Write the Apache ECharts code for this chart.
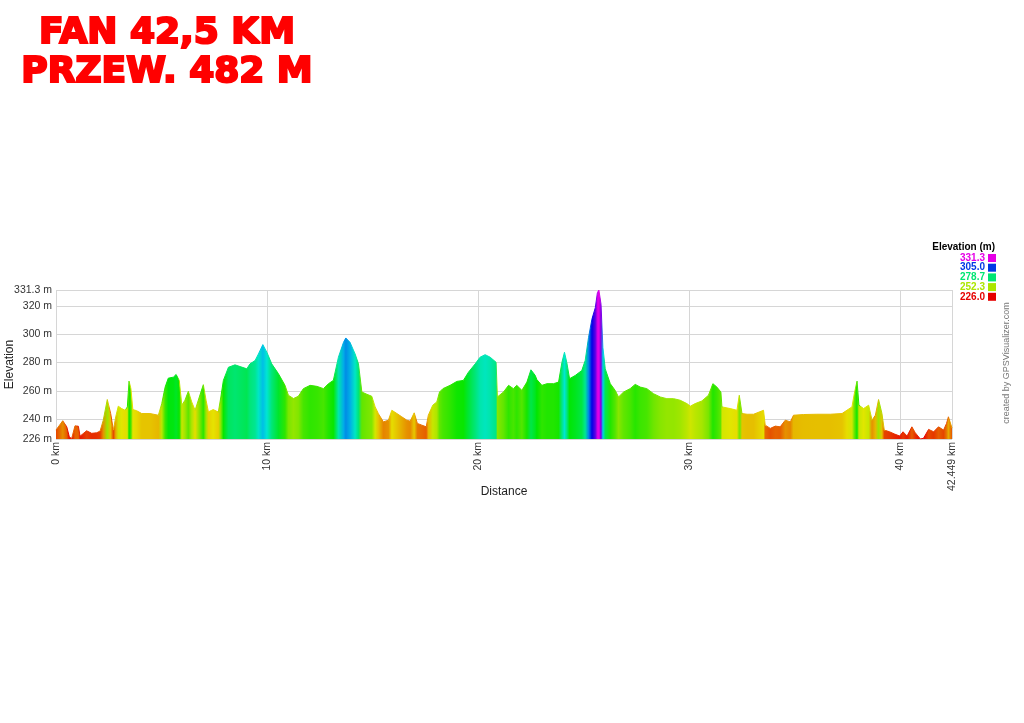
<!DOCTYPE html>
<html><head><meta charset="utf-8">
<script src="https://cdn.jsdelivr.net/npm/echarts@6/dist/echarts.min.js"></script>
<style>html,body{margin:0;padding:0;background:#fff}#c{width:1024px;height:723px}</style>
</head><body><div id="c"></div>
<script>
const distanceKm = [0,0.32,0.51,0.63,0.74,0.90,1.06,1.14,1.45,1.69,1.93,2.09,2.24,2.43,2.59,2.72,2.83,2.95,3.11,3.27,3.38,3.46,3.55,3.64,3.82,4.06,4.45,4.85,5.01,5.17,5.32,5.56,5.69,5.84,5.96,6.11,6.27,6.43,6.59,6.79,6.98,7.11,7.22,7.45,7.69,7.81,7.93,8.17,8.48,8.72,9.04,9.19,9.43,9.59,9.80,9.99,10.22,10.54,10.85,11.01,11.25,11.48,11.72,12.04,12.36,12.67,12.91,13.14,13.38,13.62,13.73,13.93,14.17,14.33,14.49,14.73,14.96,15.12,15.27,15.51,15.75,15.91,16.15,16.38,16.62,16.78,16.97,17.12,17.33,17.54,17.64,17.85,18.04,18.17,18.33,18.67,18.99,19.30,19.54,19.86,20.09,20.33,20.57,20.85,20.91,21.20,21.44,21.67,21.83,22.07,22.31,22.50,22.70,22.78,23.02,23.26,23.57,23.81,23.97,24.09,24.20,24.33,24.60,24.91,25.07,25.23,25.39,25.55,25.65,25.72,25.82,25.91,26.02,26.26,26.49,26.65,26.89,27.20,27.44,27.68,27.99,28.31,28.63,28.94,29.26,29.57,29.89,30.05,30.28,30.60,30.91,31.12,31.31,31.50,31.55,31.94,32.26,32.37,32.42,32.50,32.74,33.05,33.52,33.60,33.84,34.08,34.31,34.55,34.79,34.94,35.42,36.05,36.68,37.24,37.47,37.71,37.82,37.95,38.04,38.26,38.50,38.66,38.82,38.97,39.13,39.24,39.49,39.73,39.97,40.13,40.32,40.55,40.71,40.95,41.10,41.34,41.58,41.81,42.05,42.19,42.28,42.449];
const elevationM = [232.3,238.9,234.6,227.6,226.2,235.3,235,228,231.8,230,230.4,231.6,239.3,253.9,244,232.3,241.7,249.2,247.5,246.3,248.7,266.9,261.6,246.8,246,244,244,242.8,251,262.7,269,269.7,271.6,267.4,249.9,253.4,259.7,252.2,246.3,255.7,264.4,253.4,245.2,246.8,245,255.7,267.4,276.7,278.4,277.2,275.6,279.1,281.4,286.1,292.7,287.3,279.1,272.1,263.9,256.9,254.6,256.2,261.6,263.9,263.2,261.6,265.1,267.4,283.8,294.3,297.4,294.3,286.1,279.1,259.2,257.6,256.2,248.7,244,238.1,239.3,246.3,244,241.7,239.3,238.6,244.5,237,235.8,234.6,242.8,249.9,252.2,259.2,261.6,263.9,266.7,267.4,273.2,279.1,283.8,285.6,283.8,280.2,255.7,259.2,263.9,261.6,263.9,260.4,266.2,274.9,271,268,263.9,265.1,265.1,266.2,280.2,287.3,280,268.6,270.9,274.4,281.4,297.8,310.7,318.8,329.4,331.3,321.2,290.8,275.6,265.1,260.4,255.7,259.2,261.6,264.6,262.7,261.6,258,255.7,254.5,254.5,253.4,251,249.2,251,252.9,256.9,265.1,262.7,259.2,248.7,247.5,246.3,256.9,256,244,243.5,243.5,246.3,235.8,233.5,235.1,234.6,239.3,238.1,242.8,243.3,243.5,243.5,244,246.3,248.7,258,266.9,249.9,247.5,249.9,239.3,242.8,253.9,244,232.3,231.1,229.5,228.1,231.1,228.1,234.6,230.4,226,226.5,232.8,231.1,234.6,232.3,237,241.7,233.7];
const yTicks = [226, 240, 260, 280, 300, 320, 331.3];
const xTicks = [0, 10, 20, 30, 40, 42.449];
const legendValues = [331.3, 305.0, 278.7, 252.3, 226.0];
const titleLines = ['FAN 42,5 KM', 'PRZEW. 482 M'];

const ELEV_MIN = 226, ELEV_MAX = 331.3, DIST_MAX = 42.449;

function elevColor(v) {
  let t = (v - ELEV_MIN) / (ELEV_MAX - ELEV_MIN);
  t = Math.max(0, Math.min(1, t));
  const h = 300 * t, val = 0.9;
  const c = val, x = c * (1 - Math.abs(((h / 60) % 2) - 1));
  let r, g, b;
  if (h < 60) { r = c; g = x; b = 0; }
  else if (h < 120) { r = x; g = c; b = 0; }
  else if (h < 180) { r = 0; g = c; b = x; }
  else if (h < 240) { r = 0; g = x; b = c; }
  else { r = x; g = 0; b = c; }
  return 'rgb(' + Math.round(r * 255) + ',' + Math.round(g * 255) + ',' + Math.round(b * 255) + ')';
}
function makeGrad() {
  return new echarts.graphic.LinearGradient(0, 0, 1, 0,
    distanceKm.map((d, i) => ({ offset: d / DIST_MAX, color: elevColor(elevationM[i]) })));
}

const chart = echarts.init(document.getElementById('c'), null, { renderer: 'canvas' });
const FONT = '"Liberation Sans", Arial, sans-serif';

const graphics = [];
titleLines.forEach((t, i) => {
  graphics.push({
    type: 'text', x: 167, y: i === 0 ? 34 : 73,
    style: { text: t, fill: '#ff0000', stroke: '#ff0000', lineWidth: 2.2,
      font: 'bold 36px "DejaVu Sans"', align: 'center', verticalAlign: 'middle',
      textAlign: 'center', textVerticalAlign: 'middle' }
  });
});
graphics.push({
  type: 'text', x: 995, y: 247,
  style: { text: 'Elevation (m)', fill: '#000', font: 'bold 10px ' + FONT,
    align: 'right', verticalAlign: 'middle', textAlign: 'right', textVerticalAlign: 'middle' }
});
legendValues.forEach((v, i) => {
  const y = 258 + i * 9.7;
  const col = elevColor(v);
  graphics.push({
    type: 'text', x: 985, y: y,
    style: { text: v.toFixed(1), fill: col, font: 'bold 10px ' + FONT,
      align: 'right', verticalAlign: 'middle', textAlign: 'right', textVerticalAlign: 'middle' }
  });
  graphics.push({ type: 'rect', shape: { x: 988, y: y - 4, width: 8, height: 8 }, style: { fill: col } });
});
graphics.push({
  type: 'text', x: 1007, y: 363, rotation: Math.PI / 2,
  style: { text: 'created by GPSVisualizer.com', fill: '#777', font: '9px ' + FONT,
    align: 'center', verticalAlign: 'middle', textAlign: 'center', textVerticalAlign: 'middle' }
});

chart.setOption({
  animation: false,
  backgroundColor: '#fff',
  textStyle: { fontFamily: FONT },
  grid: { left: 56, right: 72, top: 290, bottom: 284, containLabel: false, outerBoundsMode: 'none' },
  xAxis: {
    type: 'value', min: 0, max: DIST_MAX,
    name: 'Distance', nameLocation: 'middle', nameGap: 47, nameMoveOverlap: false,
    nameTextStyle: { fontSize: 12, color: '#222', fontFamily: FONT },
    axisLine: { show: false },
    axisTick: { show: false, customValues: xTicks },
    axisLabel: { customValues: xTicks, rotate: 90, margin: 3, fontSize: 10.5, color: '#333',
      fontFamily: FONT, formatter: v => v + ' km', showMinLabel: true, showMaxLabel: true },
    splitLine: { show: true, lineStyle: { color: '#d6d6d6', width: 1 } }
  },
  yAxis: {
    type: 'value', min: ELEV_MIN, max: ELEV_MAX,
    name: 'Elevation', nameLocation: 'middle', nameGap: 40, nameMoveOverlap: false,
    nameTextStyle: { fontSize: 12, color: '#222', fontFamily: FONT },
    axisLine: { show: false },
    axisTick: { show: false, customValues: yTicks },
    axisLabel: { customValues: yTicks, margin: 4, fontSize: 10.5, color: '#333',
      fontFamily: FONT, formatter: v => v + ' m', showMinLabel: true, showMaxLabel: true },
    splitLine: { show: true, lineStyle: { color: '#d6d6d6', width: 1 } }
  },
  graphic: graphics,
  series: [{
    type: 'line', silent: true, showSymbol: false, symbol: 'none',
    data: distanceKm.map((d, i) => [d, elevationM[i]]),
    lineStyle: { width: 1, color: makeGrad() },
    areaStyle: { color: makeGrad(), opacity: 1, origin: 'start' }
  }]
});
</script></body></html>
